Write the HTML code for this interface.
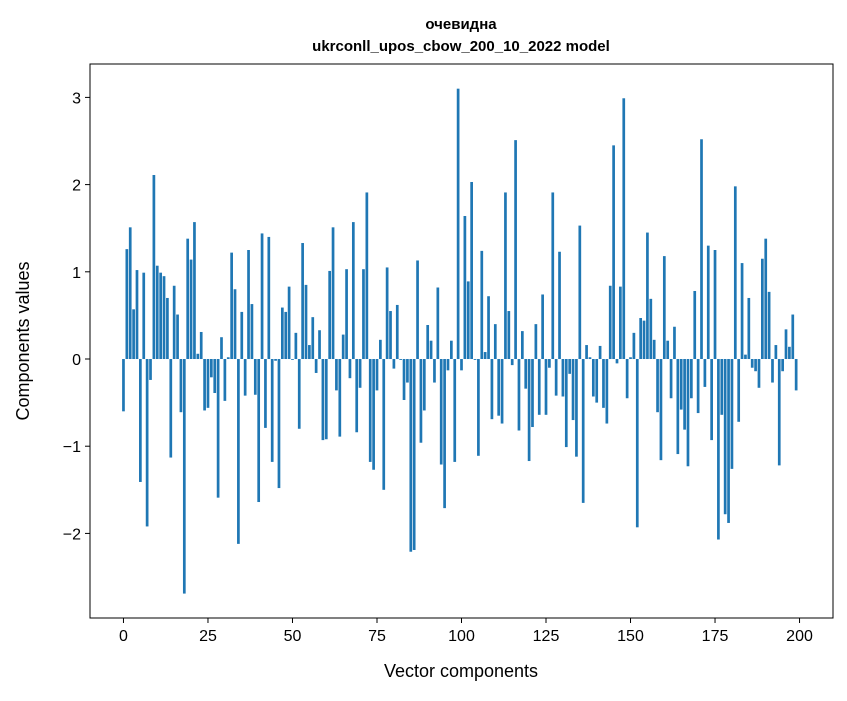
<!DOCTYPE html>
<html><head><meta charset="utf-8"><style>
body{margin:0;background:#fff;}
svg text{font-family:"Liberation Sans","DejaVu Sans",sans-serif;fill:#000;}
</style></head><body>
<svg id="chart" width="847" height="696" xmlns="http://www.w3.org/2000/svg">
<rect width="847" height="696" fill="#fff"/>
<text x="461" y="29" text-anchor="middle" font-size="15" font-weight="bold">очевидна</text>
<text x="461" y="51" text-anchor="middle" font-size="15" font-weight="bold">ukrconll_upos_cbow_200_10_2022 model</text>
<g id="bars"></g>
<g id="axes"></g>
<rect x="90" y="64" width="743" height="554" fill="none" stroke="#000" stroke-width="1"/>
<text x="461" y="677" text-anchor="middle" font-size="18">Vector components</text>
<text transform="translate(29,341) rotate(-90)" text-anchor="middle" font-size="18">Components values</text>
</svg>
<script>
const values = [-0.60,1.26,1.51,0.57,1.02,-1.41,0.99,-1.92,-0.24,2.11,1.07,0.99,0.95,0.70,-1.13,0.84,0.51,-0.61,-2.69,1.38,
1.14,1.57,0.06,0.31,-0.59,-0.56,-0.21,-0.39,-1.59,0.25,-0.48,0.02,1.22,0.80,-2.12,0.54,-0.42,1.25,0.63,-0.41,
-1.64,1.44,-0.79,1.40,-1.18,-0.02,-1.48,0.59,0.54,0.83,-0.01,0.30,-0.80,1.33,0.85,0.16,0.48,-0.16,0.33,-0.93,
-0.92,1.01,1.51,-0.36,-0.89,0.28,1.03,-0.22,1.57,-0.84,-0.33,1.03,1.91,-1.18,-1.27,-0.36,0.22,-1.50,1.05,0.55,
-0.11,0.62,-0.01,-0.47,-0.27,-2.21,-2.19,1.13,-0.96,-0.59,0.39,0.21,-0.27,0.82,-1.21,-1.71,-0.13,0.21,-1.18,3.10,
-0.13,1.64,0.89,2.03,-0.01,-1.11,1.24,0.08,0.72,-0.69,0.40,-0.65,-0.74,1.91,0.55,-0.07,2.51,-0.82,0.32,-0.34,
-1.17,-0.78,0.40,-0.64,0.74,-0.64,-0.10,1.91,-0.42,1.23,-0.43,-1.01,-0.17,-0.70,-1.12,1.53,-1.65,0.16,0.02,-0.43,
-0.50,0.15,-0.56,-0.74,0.84,2.45,-0.05,0.83,2.99,-0.45,0.02,0.30,-1.93,0.47,0.44,1.45,0.69,0.22,-0.61,-1.16,
1.18,0.21,-0.45,0.37,-1.09,-0.58,-0.81,-1.23,-0.45,0.78,-0.62,2.52,-0.32,1.30,-0.93,1.25,-2.07,-0.64,-1.78,-1.88,
-1.26,1.98,-0.72,1.10,0.05,0.70,-0.10,-0.14,-0.33,1.15,1.38,0.77,-0.27,0.16,-1.22,-0.14,0.34,0.14,0.51,-0.36];
const xTicks = [0,25,50,75,100,125,150,175,200];
const yTicks = [-2,-1,0,1,2,3];
const X0=90,X1=833,Y0=64,Y1=618, XMIN=-9.9, XMAX=209.9, YMIN=-2.97, YMAX=3.383;
const sx=v=>X0+(v-XMIN)/(XMAX-XMIN)*(X1-X0);
const sy=v=>Y1-(v-YMIN)/(YMAX-YMIN)*(Y1-Y0);
const NS="http://www.w3.org/2000/svg";
const bars=document.getElementById('bars'), axes=document.getElementById('axes');
values.forEach((v,i)=>{
  const r=document.createElementNS(NS,'rect');
  const a=sx(i-0.4), b=sx(i+0.4);
  r.setAttribute('x',a); r.setAttribute('width',b-a);
  r.setAttribute('y',Math.min(sy(v),sy(0))); r.setAttribute('height',Math.abs(sy(v)-sy(0)));
  r.setAttribute('fill','#1f77b4');
  
  
  bars.appendChild(r);
});
xTicks.forEach(t=>{
  const l=document.createElementNS(NS,'line');
  l.setAttribute('x1',sx(t));l.setAttribute('x2',sx(t));l.setAttribute('y1',Y1);l.setAttribute('y2',Y1+5);l.setAttribute('stroke','#000');
  
  
  axes.appendChild(l);
  const tx=document.createElementNS(NS,'text');
  tx.setAttribute('x',sx(t));tx.setAttribute('y',Y1+23);tx.setAttribute('text-anchor','middle');tx.setAttribute('font-size','16');
  tx.textContent=t;
  
  
  axes.appendChild(tx);
});
yTicks.forEach(t=>{
  const l=document.createElementNS(NS,'line');
  l.setAttribute('x1',X0-5);l.setAttribute('x2',X0);l.setAttribute('y1',sy(t));l.setAttribute('y2',sy(t));l.setAttribute('stroke','#000');
  
  
  axes.appendChild(l);
  const tx=document.createElementNS(NS,'text');
  tx.setAttribute('x',X0-9);tx.setAttribute('y',sy(t)+6);tx.setAttribute('text-anchor','end');tx.setAttribute('font-size','16');
  tx.textContent=(t<0?'\u2212'+(-t):''+t);
  
  
  axes.appendChild(tx);
});
</script>
</body></html>
